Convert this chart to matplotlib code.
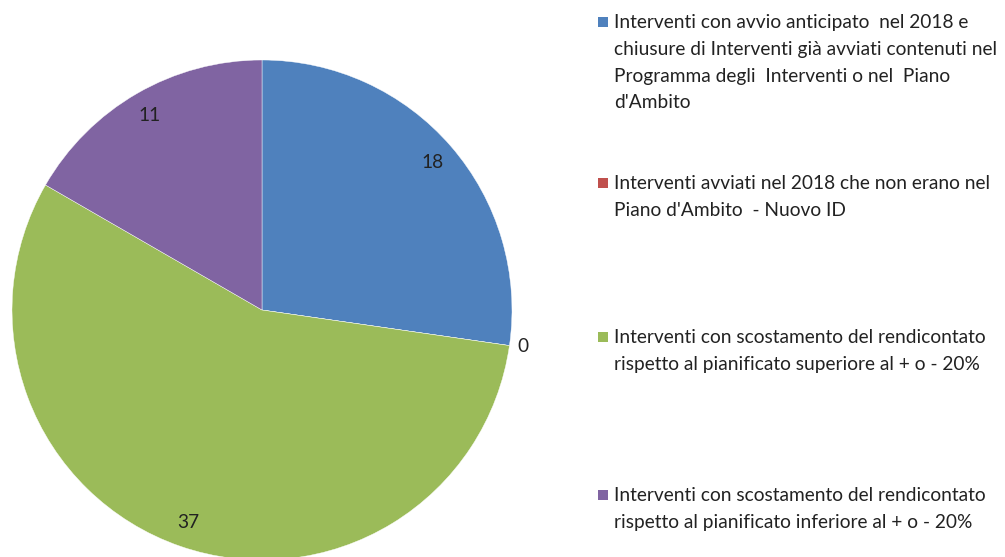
import numpy as np
import matplotlib.pyplot as plt
import matplotlib.patches as mpatches

# Data
labels = [
    "Interventi con avvio anticipato  nel 2018 e\nchiusure di Interventi già avviati contenuti nel\nProgramma degli  Interventi o nel  Piano\nd'Ambito",
    "Interventi avviati nel 2018 che non erano nel\nPiano d'Ambito  - Nuovo ID",
    "Interventi con scostamento del rendicontato\nrispetto al pianificato superiore al + o - 20%",
    "Interventi con scostamento del rendicontato\nrispetto al pianificato inferiore al + o - 20%",
]
values = [18, 0, 37, 11]
colors = ["#4F81BD", "#C0504D", "#9BBB59", "#8064A2"]

FONT = "Lato"
FS = 13.8

fig = plt.figure(figsize=(10.05, 5.57), dpi=100)
W, H = 1005, 557

# pie axes: centre (262, 310) px, radius 250 px
cx, cy, r = 262, 310, 250
ax = fig.add_axes([(cx - r) / W, (H - cy - r) / H, 2 * r / W, 2 * r / H])
wedges, _ = ax.pie(values, colors=colors, startangle=90, counterclock=False,
                   radius=1.0, wedgeprops=dict(edgecolor="white", linewidth=0.3))
ax.set_xlim(-1, 1)
ax.set_ylim(-1, 1)
ax.set_aspect("auto")
ax.axis("off")
for w in wedges:
    w.set_clip_on(False)

# value labels
for w, v in zip(wedges, values):
    ang = np.deg2rad((w.theta1 + w.theta2) / 2)
    if v == 0:
        ax.text(1.03 * np.cos(ang), 1.03 * np.sin(ang), str(v), ha="left", va="center",
                fontsize=FS, family=FONT, color="#222222")
    else:
        ax.text(0.9 * np.cos(ang), 0.9 * np.sin(ang), str(v), ha="center", va="center",
                fontsize=FS, family=FONT, color="#222222")

# legend, placed by hand
tops = [22, 183, 337, 495]
for lab, col, y in zip(labels, colors, tops):
    fig.patches.append(mpatches.Rectangle((598 / W, (H - y - 5) / H), 10 / W, 10 / H,
                                          transform=fig.transFigure, facecolor=col,
                                          edgecolor="none"))
    fig.text(614 / W, (H - y + 8) / H, lab, ha="left", va="top",
             fontsize=FS, family=FONT, color="#222222", linespacing=1.7)

fig.savefig("out.png", dpi=100)
